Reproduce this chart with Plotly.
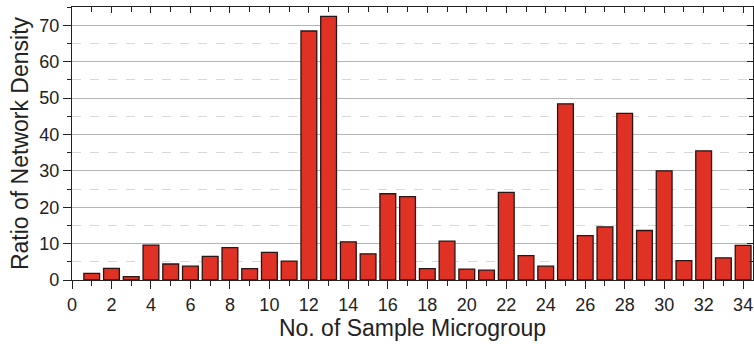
import plotly.graph_objects as go

groups = list(range(1, 35))
ratios = [1.8, 3.2, 0.9, 9.6, 4.4, 3.8, 6.5, 8.9, 3.1, 7.6, 5.2, 68.4, 72.4, 10.5, 7.2,
          23.7, 22.9, 3.1, 10.7, 3.0, 2.7, 24.1, 6.7, 3.8, 48.4, 12.2, 14.6, 45.8, 13.6,
          30.0, 5.3, 35.5, 6.1, 9.5]
x_ticks = list(range(0, 35, 2))
y_ticks = list(range(0, 71, 10))

fig = go.Figure()
fig.add_trace(go.Bar(
    x=groups, y=ratios, width=0.8,
    marker=dict(color="#DF3124", line=dict(color="#2a1414", width=1.3)),
    showlegend=False,
))
fig.add_trace(go.Scatter(x=[None], y=[None], xaxis="x2", yaxis="y2", showlegend=False))

font = "Liberation Sans"
fig.update_layout(
    width=754, height=344,
    margin=dict(l=72, r=1, t=7, b=64),
    plot_bgcolor="white", paper_bgcolor="white",
    font=dict(family=font, color="#222"),
    xaxis=dict(
        range=[0, 34.5], tickvals=x_ticks, ticks="outside", ticklen=8, tickwidth=1.3,
        tickcolor="#222", showline=True, linecolor="#222", linewidth=1.3,
        showgrid=False, zeroline=False, tickfont=dict(size=18, family=font),
        minor=dict(dtick=1, tick0=0, ticks="outside", ticklen=5, tickwidth=1.3, tickcolor="#222", showgrid=False),
        title=dict(text="No. of Sample Microgroup", font=dict(size=23, family=font), standoff=2),
    ),
    yaxis=dict(
        range=[0, 75], tickvals=y_ticks, ticks="outside", ticklen=8, tickwidth=1.3,
        tickcolor="#222", showline=True, linecolor="#222", linewidth=1.3,
        showgrid=True, gridcolor="#b5b5b5", gridwidth=1, zeroline=False,
        tickfont=dict(size=18, family=font),
        minor=dict(dtick=5, tick0=0, ticks="outside", ticklen=4, tickwidth=1.3, tickcolor="#222",
                   showgrid=True, gridcolor="#d8d8d8", griddash="dash", gridwidth=1),
        title=dict(text="Ratio of Network Density", font=dict(size=23, family=font), standoff=4),
    ),
    xaxis2=dict(
        overlaying="x", side="top", range=[0, 34.5], tickvals=x_ticks, ticks="inside",
        ticklen=6, tickwidth=1.3, tickcolor="#222", showticklabels=False,
        showline=True, linecolor="#222", linewidth=1.3, showgrid=False, zeroline=False,
        minor=dict(dtick=1, tick0=0, ticks="inside", ticklen=5, tickwidth=1.3, tickcolor="#222", showgrid=False),
    ),
    yaxis2=dict(
        overlaying="y", side="right", range=[0, 75], tickvals=y_ticks, ticks="inside",
        ticklen=6, tickwidth=1.3, tickcolor="#222", showticklabels=False,
        showline=True, linecolor="#222", linewidth=1.3, showgrid=False, zeroline=False,
        minor=dict(dtick=5, tick0=0, ticks="inside", ticklen=4, tickwidth=1.3, tickcolor="#222", showgrid=False),
    ),
)
fig.write_html("out.html")
